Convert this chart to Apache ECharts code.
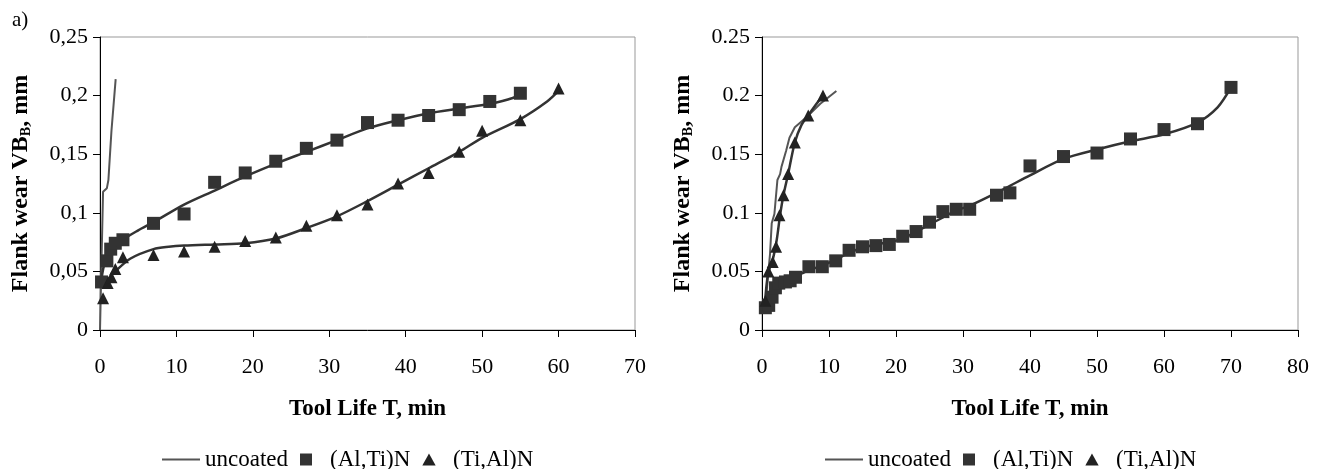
<!DOCTYPE html>
<html>
<head>
<meta charset="utf-8">
<script src="https://cdn.jsdelivr.net/npm/echarts@6/dist/echarts.min.js"></script>
<style>
  html, body { margin: 0; padding: 0; background: #fff; }
  #chart { width: 1325px; height: 469px; }
</style>
</head>
<body>
<div id="chart"></div>
<script>
// Tick labels
const yTickLabelsLeft = ['0', '0,05', '0,1', '0,15', '0,2', '0,25'];
const yTickLabelsRight = ['0', '0.05', '0.1', '0.15', '0.2', '0.25'];
const seriesNames = ['uncoated', '(Al,Ti)N', '(Ti,Al)N'];

// Left panel: [tool life T (min), flank wear VB (mm)]
const leftUncoated = [[0, 0], [0.2, 0.06], [0.4, 0.118], [0.9, 0.121], [1.1, 0.128], [1.5, 0.17], [2.05, 0.214]];
const leftAlTiN = [[0.2, 0.041], [0.9, 0.059], [1.4, 0.069], [2, 0.074], [3, 0.077], [7, 0.091], [11, 0.099], [15, 0.126], [19, 0.134], [23, 0.144], [27, 0.155], [31, 0.162], [35, 0.177], [39, 0.179], [43, 0.183], [47, 0.188], [51, 0.195], [55, 0.202]];
const leftTiAlN = [[0.4, 0.027], [1, 0.040], [1.5, 0.045], [2, 0.052], [3, 0.062], [7, 0.064], [11, 0.067], [15, 0.071], [19, 0.076], [23, 0.079], [27, 0.089], [31, 0.098], [35, 0.107], [39, 0.125], [43, 0.134], [47, 0.152], [50, 0.170], [55, 0.179], [60, 0.206]];
const leftAlTiNFit = [[0.2, 0.044], [0.65, 0.058], [1.5, 0.068], [3, 0.077], [5, 0.085], [7, 0.092], [11, 0.107], [15, 0.119], [19, 0.131], [23, 0.142], [27, 0.152], [31, 0.162], [35, 0.172], [39, 0.179], [43, 0.185], [47, 0.189], [51, 0.193], [54, 0.198], [55, 0.202]];
const leftTiAlNFit = [[0.2, 0.037], [1, 0.043], [2, 0.05], [4, 0.061], [7, 0.069], [9, 0.071], [11, 0.072], [15, 0.073], [19, 0.074], [23, 0.078], [27, 0.087], [31, 0.097], [35, 0.11], [39, 0.124], [43, 0.138], [47, 0.152], [50, 0.164], [55, 0.18], [58.5, 0.195], [60, 0.204]];

// Right panel
const rightUncoated = [[0.45, 0.017], [0.8, 0.04], [1.2, 0.065], [1.45, 0.091], [1.85, 0.099], [2.3, 0.128], [2.7, 0.133], [2.9, 0.139], [3.6, 0.153], [4.1, 0.164], [4.9, 0.173], [5.9, 0.178], [6.9, 0.183], [8.7, 0.193], [11.1, 0.204]];
const rightAlTiN = [[0.5, 0.019], [1, 0.021], [1.5, 0.028], [2, 0.036], [2.5, 0.04], [3.5, 0.041], [4.2, 0.042], [5, 0.045], [7, 0.054], [9, 0.054], [11, 0.059], [13, 0.068], [15, 0.071], [17, 0.072], [19, 0.073], [21, 0.080], [23, 0.084], [25, 0.092], [27, 0.101], [29, 0.103], [31, 0.103], [35, 0.115], [37, 0.117], [40, 0.140], [45, 0.148], [50, 0.151], [55, 0.163], [60, 0.171], [65, 0.176], [70, 0.207]];
const rightTiAlN = [[0.5, 0.025], [0.95, 0.05], [1.6, 0.058], [2.1, 0.071], [2.6, 0.098], [3.2, 0.115], [3.9, 0.133], [4.9, 0.16], [6.9, 0.183], [9.1, 0.2]];
const rightAlTiNFit = [[0.5, 0.02], [1, 0.025], [2, 0.036], [3, 0.041], [5, 0.046], [7, 0.051], [9, 0.055], [11, 0.06], [13, 0.066], [15, 0.07], [17, 0.073], [19, 0.075], [21, 0.078], [23, 0.084], [25, 0.09], [27, 0.096], [29, 0.102], [31, 0.106], [35, 0.117], [37, 0.123], [40, 0.132], [45, 0.146], [50, 0.154], [55, 0.161], [60, 0.167], [65, 0.177], [68, 0.19], [70, 0.207]];
const rightTiAlNFit = [[0.4, 0.02], [0.9, 0.048], [1.6, 0.06], [2.2, 0.077], [2.7, 0.098], [3.2, 0.115], [3.9, 0.133], [4.9, 0.16], [5.9, 0.175], [6.9, 0.183], [8, 0.192], [9.1, 0.2]];

const FONT = 'Liberation Serif';
const INK = '#000';
const MARK = '#333';
const UNCOATED = '#555';

function xAxisCfg(gridIndex, max) {
  return {
    type: 'value', gridIndex: gridIndex, min: 0, max: max, interval: 10,
    name: 'Tool Life T, min', nameLocation: 'middle', nameGap: 68,
    nameTextStyle: { fontFamily: FONT, fontWeight: 'bold', fontSize: 23, color: INK },
    axisLine: { lineStyle: { color: INK, width: 1 } },
    axisTick: { lineStyle: { color: INK }, length: 7 },
    axisLabel: { fontFamily: FONT, fontSize: 22, color: INK, margin: 26 },
    splitLine: { show: false }
  };
}

function yAxisCfg(gridIndex, labels) {
  return {
    type: 'value', gridIndex: gridIndex, min: 0, max: 0.25, interval: 0.05,
    name: 'Flank wear VB{sub|B}, mm', nameLocation: 'middle', nameGap: 67,
    nameTextStyle: {
      fontFamily: FONT, fontWeight: 'bold', fontSize: 24, color: INK,
      rich: { sub: { fontFamily: FONT, fontWeight: 'bold', fontSize: 14, color: INK, verticalAlign: 'bottom', padding: [9, 0, 0, 0] } }
    },
    axisLine: { show: true, lineStyle: { color: INK, width: 1 } },
    axisTick: { show: true, lineStyle: { color: INK }, length: 7 },
    axisLabel: {
      fontFamily: FONT, fontSize: 22, color: INK, margin: 12,
      formatter: function (v, i) { return labels[i]; }
    },
    splitLine: { show: false }
  };
}

function lineSeries(name, data, idx, color, width, smooth) {
  return {
    name: name, type: 'line', data: data, xAxisIndex: idx, yAxisIndex: idx,
    symbol: 'none', smooth: smooth, z: 2,
    lineStyle: { color: color, width: width }, itemStyle: { color: color },
    silent: true, animation: false
  };
}

function markSeries(name, data, idx, symbol, size, color) {
  return {
    name: name, type: 'scatter', data: data, xAxisIndex: idx, yAxisIndex: idx,
    symbol: symbol, symbolSize: size, z: 3,
    itemStyle: { color: color, opacity: 1 }, silent: true, animation: false
  };
}

function legendCfg(left) {
  return {
    left: left, top: 443, itemWidth: 38, itemHeight: 12, itemGap: 12,
    textStyle: { fontFamily: FONT, fontSize: 23, color: INK, padding: [0, 0, 0, 0] },
    selectedMode: false,
    data: [
      { name: seriesNames[0], icon: 'path://M0,0H38V2H0Z', itemStyle: { color: UNCOATED } },
      { name: seriesNames[1], icon: 'path://M0,0H10V10H0Z', itemStyle: { color: MARK } },
      { name: seriesNames[2], icon: 'path://M5,0L10,9H0Z', itemStyle: { color: '#222' } }
    ]
  };
}

const chart = echarts.init(document.getElementById('chart'), null, { renderer: 'canvas' });
chart.setOption({
  animation: false,
  backgroundColor: '#fff',
  title: {
    text: 'a)', left: 7, top: 5,
    textStyle: { fontFamily: FONT, fontWeight: 'normal', fontSize: 21, color: INK }
  },
  grid: [
    { left: 100, top: 37, width: 535, height: 293, show: true, borderColor: '#999', borderWidth: 1, backgroundColor: 'transparent' },
    { left: 762, top: 37, width: 536, height: 293, show: true, borderColor: '#999', borderWidth: 1, backgroundColor: 'transparent' }
  ],
  xAxis: [xAxisCfg(0, 70), xAxisCfg(1, 80)],
  yAxis: [yAxisCfg(0, yTickLabelsLeft), yAxisCfg(1, yTickLabelsRight)],
  legend: [legendCfg(157), legendCfg(820)],
  series: [
    lineSeries(seriesNames[0], leftUncoated, 0, UNCOATED, 2, false),
    lineSeries('(Al,Ti)N trend', leftAlTiNFit, 0, MARK, 2.5, 0.3),
    lineSeries('(Ti,Al)N trend', leftTiAlNFit, 0, MARK, 2.5, 0.3),
    markSeries(seriesNames[1], leftAlTiN, 0, 'rect', 13, MARK),
    markSeries(seriesNames[2], leftTiAlN, 0, 'triangle', 12, '#222'),

    lineSeries(seriesNames[0], rightUncoated, 1, UNCOATED, 2, false),
    lineSeries('(Al,Ti)N trend', rightAlTiNFit, 1, MARK, 2.5, 0.3),
    lineSeries('(Ti,Al)N trend', rightTiAlNFit, 1, MARK, 2.5, 0.3),
    markSeries(seriesNames[1], rightAlTiN, 1, 'rect', 13, MARK),
    markSeries(seriesNames[2], rightTiAlN, 1, 'triangle', 12, '#222')
  ]
});
</script>
</body>
</html>
